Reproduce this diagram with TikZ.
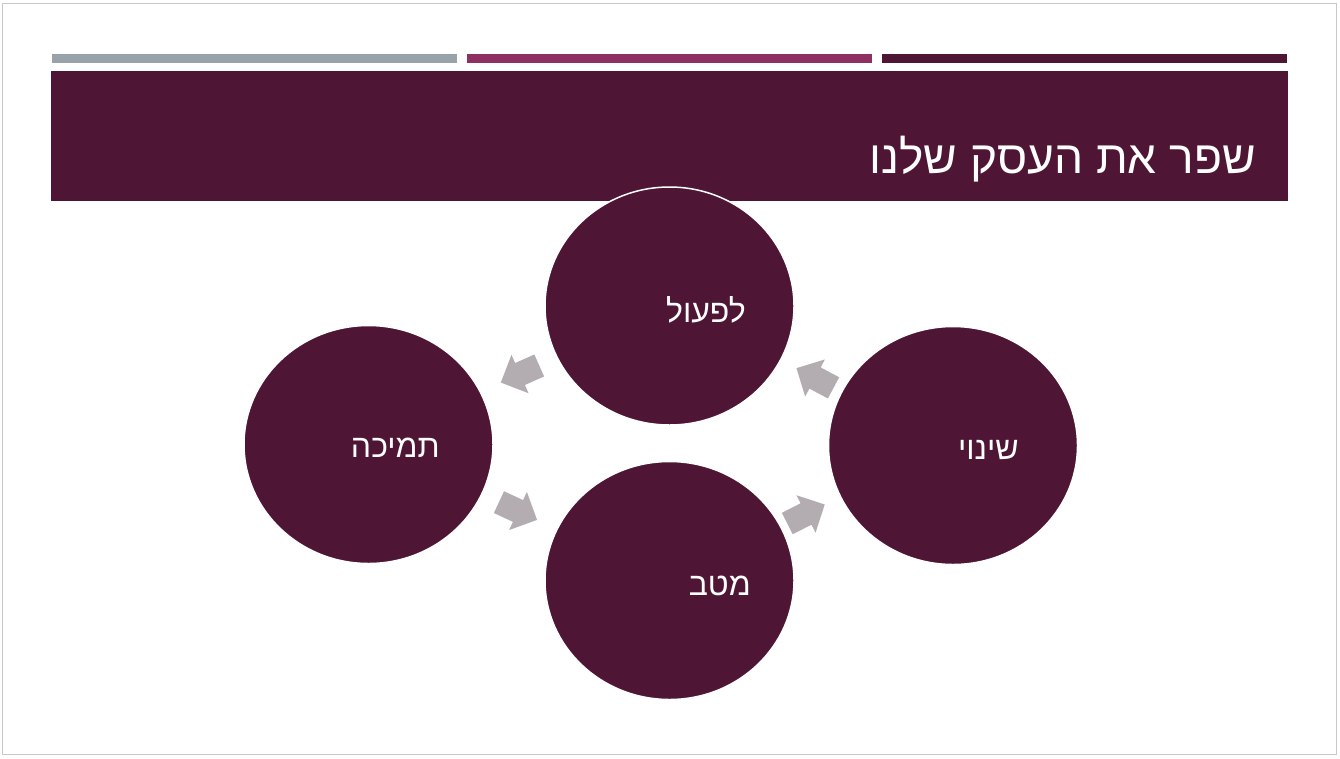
\documentclass[tikz,border=0pt]{standalone}
\usepackage{fontspec}
\setmainfont{Liberation Sans}
\newfontfamily\hebfont[Script=Hebrew]{Liberation Sans}
\TeXXeTstate=1
\usetikzlibrary{shapes.geometric}
\definecolor{darkplum}{RGB}{79,21,52}
\definecolor{barmag}{RGB}{142,49,98}
\definecolor{bargray}{RGB}{152,162,170}
\definecolor{bordergray}{RGB}{200,200,200}
\definecolor{arrowgray}{RGB}{179,172,176}
\tikzset{
  bubble/.style={ellipse, fill=darkplum, draw=white, line width=1.5pt, minimum width=249pt, minimum height=238pt, inner sep=0pt},
  bubbletext/.style={font=\hebfont\fontsize{32}{38}\selectfont, text=white, anchor=base east, inner sep=0pt},
  cyclearrow/.pic={\fill[arrowgray] (-21,-12) -- (0,-12) -- (0,-21) -- (21,0) -- (0,21) -- (0,12) -- (-21,12) -- cycle;}
}
\begin{document}
\begin{tikzpicture}[x=1pt,y=-1pt]
\useasboundingbox (0,0) rectangle (1340,758);
\fill[white] (0,0) rectangle (1340,758);
\draw[bordergray, line width=1.5pt] (2.5,3.5) rectangle (1336.5,754.5);
\fill[bargray] (52,54) rectangle (457,63);
\fill[barmag] (467,54) rectangle (872,63);
\fill[darkplum] (882,54) rectangle (1287,63);
\fill[darkplum] (51,71) rectangle (1288,201);
\node[font=\hebfont\fontsize{46}{52}\selectfont, text=white, anchor=base east, inner sep=0pt] (title) at (1256,173) {\beginR שפר את העסק שלנו\endR};
\node[bubble] (top) at (669.5,306) {};
\node[bubble] (left) at (368.5,444.5) {};
\node[bubble] (right) at (953,445.5) {};
\node[bubble] (bottom) at (669.5,580.5) {};
\node[bubbletext] (ttop) at (746,322) {\beginR לפעול\endR};
\node[bubbletext] (tleft) at (440,457) {\beginR תמיכה\endR};
\node[bubbletext] (tright) at (1019,459) {\beginR שינוי\endR};
\node[bubbletext] (tbottom) at (751,595) {\beginR מטב\endR};
\pic[rotate=204] at (520,374) {cyclearrow};
\pic[rotate=-25] at (518,511) {cyclearrow};
\pic[rotate=27] at (806,514) {cyclearrow};
\pic[rotate=152] at (815,378) {cyclearrow};
\end{tikzpicture}
\end{document}
